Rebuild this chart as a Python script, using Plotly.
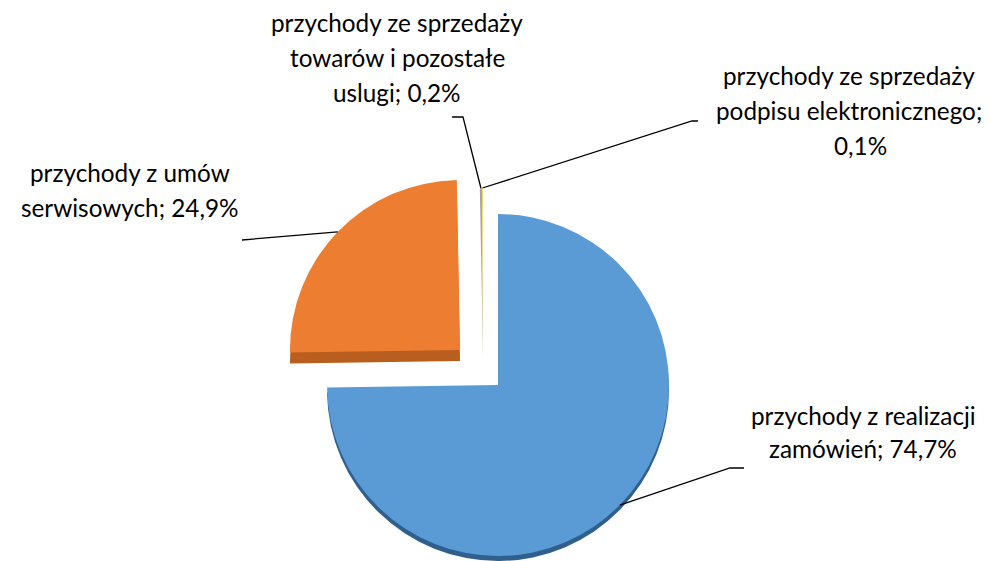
import math
import plotly.graph_objects as go

# ---- data ----
categories = [
    "przychody z realizacji zamówień",
    "przychody z umów serwisowych",
    "przychody ze sprzedaży towarów i pozostałe uslugi",
    "przychody ze sprzedaży podpisu elektronicznego",
]
values = [74.7, 24.9, 0.2, 0.1]
value_labels = ["74,7%", "24,9%", "0,2%", "0,1%"]
label_lines = [
    ["przychody z realizacji", "zamówień; 74,7%"],
    ["przychody z umów", "serwisowych; 24,9%"],
    ["przychody ze sprzedaży", "towarów i pozostałe", "uslugi; 0,2%"],
    ["przychody ze sprzedaży", "podpisu elektronicznego;", "0,1%"],
]

# ---- styling / layout ----
W, H = 991, 561          # window
OFF = 8                  # page body margin
FW, FH = W - OFF, H - OFF  # figure size
face_colors = ["#5B9BD5", "#ED7D31", "#A5A5A5", "#FFD966"]
side_colors = ["#2F5F8C", "#B85E1F", "#7F7F7F", "#C9A227"]
CLEAR = "rgba(0,0,0,0)"
FONT = dict(family="Lato", size=24.3, color="#000000")

# pie pieces: (slice indices, center x, center y, radius, depth) in window pixels
pieces = [
    ([0], 498, 385, 171, 5),
    ([1], 460, 350, 170, 11),
    ([2, 3], 483, 356, 168, 0),
]

# label text positions (center x, line center y) per line
label_pos = [
    [(863, 415), (863, 448)],
    [(130, 173), (130, 207)],
    [(397, 22), (397, 57), (397, 92)],
    [(849, 75), (849, 110), (860, 145)],
]
# leader line start points (text side), with short horizontal tail
leader_start = [((744, 468), (730, 468)), ((242, 240), (242, 240)),
                ((452, 117), (463, 117)), ((698, 121), (692, 121))]


def domain(cx, cy, r):
    return dict(x=[(cx - OFF - r) / FW, (cx - OFF + r) / FW],
                y=[1 - (cy - OFF + r) / FH, 1 - (cy - OFF - r) / FH])


def fit_r(cx, cy, r):
    return min(r, cx - OFF, W - cx, cy - OFF, H - cy)


def px(x, y):
    return (x - OFF) / FW, 1 - (y - OFF) / FH


fig = go.Figure()
total = sum(values)

# side (3D thickness) layers first
for idx, cx, cy, r, depth in pieces:
    if depth <= 0:
        continue
    scy = cy + depth
    rr = fit_r(cx, scy, r)
    cols = [side_colors[i] if i in idx else CLEAR for i in range(len(values))]
    fig.add_trace(go.Pie(
        values=values, labels=categories, sort=False, direction="clockwise",
        rotation=0, textinfo="none", hoverinfo="skip", showlegend=False,
        marker=dict(colors=cols, line=dict(width=0)),
        domain=domain(cx, scy, rr)))

# top faces
for idx, cx, cy, r, depth in pieces:
    cols = [face_colors[i] if i in idx else CLEAR for i in range(len(values))]
    fig.add_trace(go.Pie(
        values=values, labels=categories, sort=False, direction="clockwise",
        rotation=0, textinfo="none", hoverinfo="label+percent", showlegend=False,
        marker=dict(colors=cols, line=dict(width=0)),
        domain=domain(cx, cy, fit_r(cx, cy, r))))

# anchor points on the slices computed from the values
cum = 0
anchors = {}
for i, v in enumerate(values):
    mid = (cum + v / 2) / total * 2 * math.pi
    cum += v
    for idx, cx, cy, r, depth in pieces:
        if i in idx:
            anchors[i] = (cx + r * math.sin(mid), cy - r * math.cos(mid))

annotations = []
shapes = []
for i in range(len(values)):
    for (lx, ly), line in zip(label_pos[i], label_lines[i]):
        x, y = px(lx, ly)
        annotations.append(dict(x=x, y=y, xref="paper", yref="paper",
                                text=line, showarrow=False,
                                xanchor="center", yanchor="middle",
                                font=FONT))
    (x0, y0), (x1, y1) = leader_start[i]
    ax, ay = anchors[i]
    pts = [px(x0, y0), px(x1, y1), px(ax, ay)]
    path = "M {} {} L {} {} L {} {}".format(*[c for p in pts for c in p])
    shapes.append(dict(type="path", path=path, xref="paper", yref="paper",
                       line=dict(color="black", width=1.3)))

fig.update_layout(
    width=FW, height=FH,
    margin=dict(l=0, r=0, t=0, b=0),
    paper_bgcolor="white", plot_bgcolor="white",
    showlegend=False,
    annotations=annotations, shapes=shapes,
)

fig.write_html("out.html")
